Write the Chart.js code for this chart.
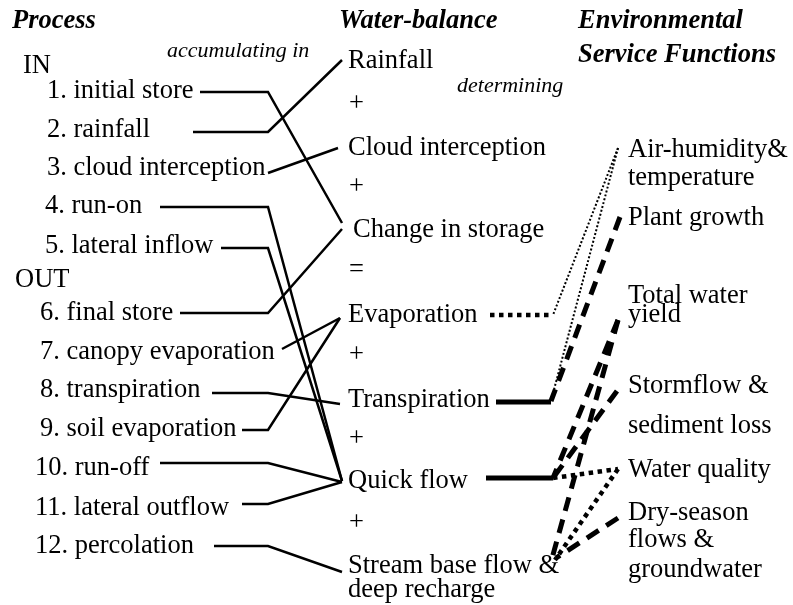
<!DOCTYPE html>
<html>
<head>
<meta charset="utf-8">
<script src="https://cdn.jsdelivr.net/npm/chart.js@4.4.0/dist/chart.umd.min.js"></script>
<style>
  body { margin: 0; background: #fff; }
  #wrap { width: 793px; height: 605px; }
</style>
</head>
<body>
<div id="wrap"><canvas id="diagram" width="793" height="605"></canvas></div>
<script>
// --- text content ---
const headers = ["Process", "Water-balance", "Environmental", "Service Functions"];
const notes = ["accumulating in", "determining"];
const groups = ["IN", "OUT"];
const processItems = ["1. initial store", "2. rainfall", "3. cloud interception", "4. run-on",
    "5. lateral inflow", "6. final store", "7. canopy evaporation", "8. transpiration",
    "9. soil evaporation", "10. run-off", "11. lateral outflow", "12. percolation"];
const balanceTerms = ["Rainfall", "+", "Cloud interception", "+", "Change in storage", "=",
    "Evaporation", "+", "Transpiration", "+", "Quick flow", "+", "Stream base flow &", "deep recharge"];
const serviceFunctions = ["Air-humidity&", "temperature", "Plant growth", "Total water", "yield",
    "Stormflow &", "sediment loss", "Water quality", "Dry-season", "flows &", "groundwater"];

// --- where the texts sit (chart units, y down) ---
const headerX = [12, 339, 578, 578];
const headerY = [28, 28, 28, 62];
const noteX = [167, 457];
const noteY = [57, 92];
const groupX = [23, 15];
const groupY = [73, 287];
const processX = [47, 47, 47, 45, 45, 40, 40, 40, 40, 35, 35, 35];
const processY = [98, 137, 175, 213, 253, 320, 359, 397, 436, 475, 515, 553];
const balanceX = [348, 349, 348, 349, 353, 349, 348, 349, 348, 349, 348, 349, 348, 348];
const balanceY = [68, 111, 155, 194, 237, 277, 322, 362, 407, 446, 488, 530, 573, 597];
const serviceX = 628;
const serviceY = [157, 185, 225, 303, 322, 393, 433, 477, 520, 547, 577];

// --- process -> water balance connectors ---
const linkStartX = [200, 193, 268, 160, 221, 180, 282, 212, 242, 160, 242, 214];
const linkY = [92, 132, 173, 207, 248, 313, 349, 393, 430, 463, 504, 546];
const linkEndY = [223, 60, 148, 481, 481, 229, 318, 404, 318, 482, 482, 572];
const bendX = 268;
const linkEndX = [342, 342, 338, 342, 342, 342, 340, 340, 340, 342, 342, 342];

// --- water balance -> service function connectors: [style, x1, y1, x2, y2] ---
const serviceLinks = [
    ["dotThick", 490, 315, 553, 315],
    ["dotThin", 618, 148, 553, 315],
    ["solidThick", 496, 402, 551, 402],
    ["dotThin", 618, 148, 551, 401],
    ["dashThick", 620, 217, 551, 401],
    ["solidThick", 486, 478, 553, 478],
    ["dashThick", 618, 320, 553, 478],
    ["dashThick", 618, 320, 551, 562],
    ["dashThick", 617, 391, 553, 478],
    ["dotThick", 553, 478, 618, 469],
    ["dotThick", 618, 469, 555, 560],
    ["dashThick", 618, 518, 556, 558]
];

const lineStyles = {
    solidThin: { borderWidth: 2.5, borderDash: [] },
    solidThick: { borderWidth: 5, borderDash: [] },
    dotThick: { borderWidth: 4.5, borderDash: [4.5, 4.5] },
    dotThin: { borderWidth: 2, borderDash: [2, 2] },
    dashThick: { borderWidth: 5, borderDash: [14, 9] }
};

const datasets = [];

processItems.forEach((item, i) => {
    const pts = [{ x: linkStartX[i], y: linkY[i] }];
    if (linkStartX[i] < bendX) pts.push({ x: bendX, y: linkY[i] });
    pts.push({ x: linkEndX[i], y: linkEndY[i] });
    datasets.push(Object.assign({
        label: item,
        data: pts
    }, lineStyles.solidThin));
});

serviceLinks.forEach(link => {
    datasets.push(Object.assign({
        label: link[0],
        data: [{ x: link[1], y: link[2] }, { x: link[3], y: link[4] }]
    }, lineStyles[link[0]]));
});

datasets.forEach(ds => {
    ds.showLine = true;
    ds.borderColor = "#000";
    ds.pointRadius = 0;
    ds.borderCapStyle = "butt";
    ds.borderJoinStyle = "miter";
    ds.tension = 0;
});

const SERIF = '"Liberation Serif", "Times New Roman", serif';

function drawTexts(ctx, scales, texts, xs, ys, font) {
    ctx.font = font;
    texts.forEach((t, i) => {
        const xv = Array.isArray(xs) ? xs[i] : xs;
        ctx.fillText(t, scales.x.getPixelForValue(xv), scales.y.getPixelForValue(ys[i]));
    });
}

const textPlugin = {
    id: "diagramText",
    afterDatasetsDraw(chart) {
        const ctx = chart.ctx;
        ctx.save();
        ctx.fillStyle = "#000";
        ctx.textAlign = "left";
        ctx.textBaseline = "alphabetic";
        drawTexts(ctx, chart.scales, headers, headerX, headerY, "italic bold 26.5px " + SERIF);
        drawTexts(ctx, chart.scales, notes, noteX, noteY, "italic 22px " + SERIF);
        drawTexts(ctx, chart.scales, groups, groupX, groupY, "26.5px " + SERIF);
        drawTexts(ctx, chart.scales, processItems, processX, processY, "26.5px " + SERIF);
        drawTexts(ctx, chart.scales, balanceTerms, balanceX, balanceY, "26.5px " + SERIF);
        drawTexts(ctx, chart.scales, serviceFunctions, serviceX, serviceY, "26.5px " + SERIF);
        ctx.restore();
    }
};

new Chart(document.getElementById("diagram").getContext("2d"), {
    type: "scatter",
    data: { datasets: datasets },
    options: {
        responsive: false,
        animation: false,
        layout: { padding: 0 },
        scales: {
            x: { type: "linear", min: 0, max: 793, display: false },
            y: { type: "linear", min: 0, max: 605, reverse: true, display: false }
        },
        plugins: {
            legend: { display: false },
            tooltip: { enabled: false }
        }
    },
    plugins: [textPlugin]
});
</script>
</body>
</html>
